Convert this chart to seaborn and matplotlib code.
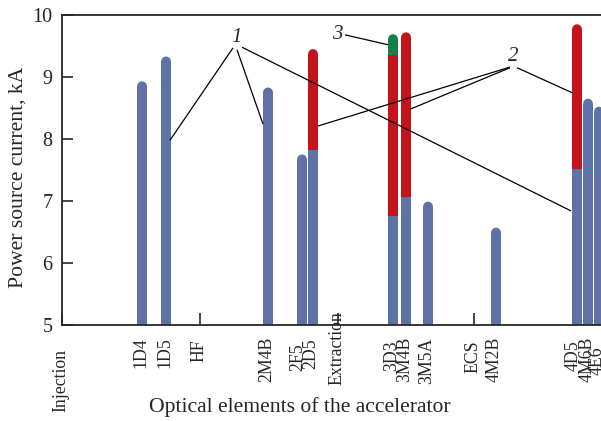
import numpy as np
import pandas as pd
import matplotlib
matplotlib.use("Agg")
import matplotlib.pyplot as plt
import matplotlib.transforms as mtransforms
import seaborn as sns

# ---- data -----------------------------------------------------------------
# Magnet power supplies, placed along the ring (ring position in arbitrary units)
elements = ["1D4", "1D5", "2M4B", "2F5", "2D5", "3D3", "3M4B", "3M5A",
            "4M2B", "4D5", "4M6B", "4E6"]
positions = [8.0, 10.4, 20.6, 24.0, 25.1, 33.1, 34.4, 36.6, 43.4, 51.5, 52.6, 53.7]
# group 1: nominal current, kA
current_1 = [8.93, 9.33, 8.83, 7.75, 7.83, 6.76, 7.06, 6.99, 6.57, 7.51, 8.65, 8.52]
# group 2: upper bound of the raised current, kA (NaN = not applicable)
current_2 = [np.nan, np.nan, np.nan, np.nan, 9.45, 9.35, 9.72, np.nan,
             np.nan, 9.85, np.nan, np.nan]
# group 3: peak current, kA
current_3 = [np.nan, np.nan, np.nan, np.nan, np.nan, 9.69, np.nan, np.nan,
             np.nan, np.nan, np.nan, np.nan]

# Ring landmarks
landmarks = ["Injection", "HF", "Extraction", "ECS"]
landmark_pos = [0.0, 13.8, 27.6, 41.2]

# ---- style ----------------------------------------------------------------
sns.set_style("ticks")
plt.rcParams["font.family"] = ["Liberation Serif", "DejaVu Serif"]

colors = {"g1": "#5e72a6", "g2": "#c5131c", "g3": "#11804a"}

fig = plt.figure(figsize=(6.01, 4.21), dpi=100)
W, H = 601, 421
ax = fig.add_axes([62 / W, (H - 325) / H, 560 / W, 310 / H])
ax.set_xlim(0, 56)
ax.set_ylim(5, 10)

bar_w = 0.97  # bar width in ring units
px_per_kA = (ax.transData.transform((0, 1)) - ax.transData.transform((0, 0)))[1]
px_per_x = (ax.transData.transform((1, 0)) - ax.transData.transform((0, 0)))[0]
cap_r = (bar_w * px_per_x / 2) / px_per_kA  # cap radius in kA

# Build stacked segments; the topmost segment of every bar ends in a round cap
rows, caps = [], []
for pos, c1, c2, c3 in zip(positions, current_1, current_2, current_3):
    layers = [("g1", c1), ("g2", c2), ("g3", c3)]
    layers = [(k, v) for k, v in layers if not np.isnan(v)]
    top_key, top_val = layers[-1]
    for k, v in layers:
        h = v - cap_r if k == top_key else v
        rows.append({"pos": pos, "layer": k, "height": h})
    caps.append({"pos": pos, "layer": top_key, "y": top_val - cap_r})
bars = pd.DataFrame(rows)
caps = pd.DataFrame(caps)

native = np.diff(np.unique(bars["pos"])).min()
sns.barplot(data=bars, x="pos", y="height", hue="layer",
            hue_order=["g3", "g2", "g1"], palette=colors, dodge=False,
            native_scale=True, width=bar_w / native, errorbar=None,
            saturation=1, linewidth=0, legend=False, ax=ax)

cap_pt = bar_w * px_per_x * 72 / fig.dpi
sns.scatterplot(data=caps, x="pos", y="y", hue="layer", palette=colors,
                s=cap_pt ** 2, linewidth=0, marker="o", legend=False,
                ax=ax, zorder=3, clip_on=False)

ax.set_xlim(0, 56)
ax.set_ylim(5, 10)
ax.set_xlabel("")
ax.set_ylabel("")

# ---- axes -----------------------------------------------------------------
for side in ("left", "bottom", "top"):
    ax.spines[side].set_linewidth(1.3)
ax.spines["right"].set_visible(False)
ax.set_yticks([5, 6, 7, 8, 9, 10])
ax.tick_params(axis="y", direction="in", length=8, width=1.2,
               labelsize=14.5, pad=7)
ax.set_xticks(landmark_pos)
ax.tick_params(axis="x", direction="in", length=8.6, width=1.2,
               labelbottom=False)

# Vertical element / landmark names below the axis (top edge offsets in px)
label_drop = {"1D4": 12, "1D5": 12, "HF": 14, "2M4B": 12, "2F5": 18,
              "2D5": 13, "Extraction": -14, "3D3": 15, "3M4B": 12,
              "3M5A": 13, "ECS": 15, "4M2B": 12, "4D5": 15, "4M6B": 12,
              "4E6": 21, "Injection": 24}
label_shift = {"2F5": -0.25, "2D5": -0.05, "4D5": -0.2, "4M6B": 0.1}
trans = mtransforms.blended_transform_factory(ax.transData, ax.transAxes)
for name, pos in list(zip(elements, positions)) + list(zip(landmarks, landmark_pos)):
    ax.text(pos - 0.15 + label_shift.get(name, 0.0), -label_drop[name] / 310,
            name, rotation=90, ha="center", va="top", fontsize=12.8,
            transform=trans, clip_on=False)

fig.text(300 / W, 1 - 407 / H, "Optical elements of the accelerator",
         ha="center", va="center", fontsize=15.6)
fig.text(18 / W, 1 - 177 / H, "Power source current, kA",
         ha="center", va="center", rotation=90, fontsize=15.6)

# ---- callouts -------------------------------------------------------------
def callout(label, xy_text, targets):
    ax.text(*xy_text, label, fontsize=15, fontstyle="italic",
            ha="center", va="center")
    for start, end in targets:
        ax.plot([start[0], end[0]], [start[1], end[1]], color="black",
                lw=0.9, solid_capstyle="butt", zorder=4)

callout("1", (17.5, 9.63), [((17.1, 9.47), (10.8, 7.98)),
                            ((17.5, 9.44), (20.1, 8.24)),
                            ((18.0, 9.48), (50.9, 6.84))])
callout("2", (45.1, 9.33), [((44.8, 9.16), (25.6, 8.21)),
                            ((44.8, 9.15), (34.8, 8.48)),
                            ((45.5, 9.15), (51.1, 8.74))])
callout("3", (27.5, 9.69), [((28.3, 9.68), (32.6, 9.52))])

fig.savefig("out.png", dpi=100)
